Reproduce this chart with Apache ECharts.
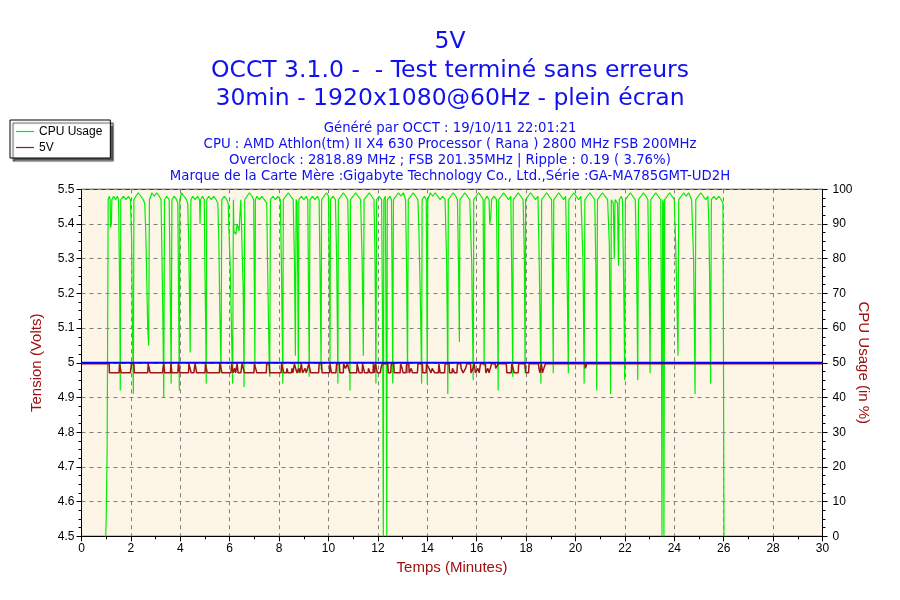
<!DOCTYPE html>
<html><head><meta charset="utf-8">
<script src="https://cdn.jsdelivr.net/npm/echarts@6/dist/echarts.min.js"></script>
<style>html,body{margin:0;padding:0;background:#fff}#c{width:900px;height:600px}</style>
</head><body><div id="c"></div>
<script>
const titleLines = ['5V', 'OCCT 3.1.0 -  - Test terminé sans erreurs', '30min - 1920x1080@60Hz - plein écran'];
const infoLines = [
  'Généré par OCCT : 19/10/11 22:01:21',
  'CPU : AMD Athlon(tm) II X4 630 Processor ( Rana ) 2800 MHz FSB 200MHz',
  'Overclock : 2818.89 MHz ; FSB 201.35MHz | Ripple : 0.19 ( 3.76%)',
  'Marque de la Carte Mère :Gigabyte Technology Co., Ltd.,Série :GA-MA785GMT-UD2H'
];
const seriesNames = ['CPU Usage', '5V'];
const axisNames = ['Temps (Minutes)', 'Tension (Volts)', 'CPU Usage (in %)'];
const nominalVolts = [[0, 5.0], [30, 5.0]];

// CPU usage (%) vs time (minutes)
const cpuUsage = [
[0.98,0],[1.0,5],[1.03,5],[1.04,26],[1.07,26],[1.08,97],[1.12,98],[1.16,97],[1.18,89],[1.21,90],[1.23,97],[1.3,98],[1.38,97],[1.45,98],[1.5,97],
[1.53,80],[1.55,68],[1.57,42],[1.59,97],[1.7,98],[1.8,97],[1.9,98],[1.98,97],
[2.03,85],[2.06,62],[2.1,41],[2.12,97],[2.2,98],[2.3,99],[2.4,98],[2.5,97],[2.56,96],
[2.6,88],[2.64,75],[2.68,60],[2.72,55],[2.75,97],[2.85,99],[2.95,98],[3.05,99],[3.15,98],[3.22,97],
[3.26,80],[3.3,60],[3.33,40],[3.36,97],[3.45,98],[3.55,97],
[3.58,78],[3.61,60],[3.63,44],[3.66,97],[3.75,98],[3.85,97],[3.9,96],
[3.93,70],[3.96,42],[3.98,97],[4.05,99],[4.15,98],[4.25,97],[4.3,96],
[4.34,85],[4.37,70],[4.4,53],[4.43,97],[4.5,98],[4.6,97],[4.7,98],[4.78,97],[4.8,90],[4.82,97],[4.9,98],[4.97,97],
[5.0,75],[5.03,60],[5.05,44],[5.07,97],[5.15,98],[5.25,97],[5.35,98],[5.45,97],[5.52,96],
[5.56,85],[5.6,65],[5.63,55],[5.65,47],[5.68,97],[5.78,98],[5.88,97],[5.94,96],
[5.97,88],[6.02,78],[6.07,60],[6.1,50],[6.12,44],[6.15,97],[6.17,88],[6.25,87],[6.3,90],[6.38,88],[6.45,97],
[6.5,97],[6.55,70],[6.58,43],[6.61,97],[6.7,98],[6.8,99],[6.9,98],[6.97,97],
[7.0,70],[7.02,49],[7.04,97],[7.1,98],[7.2,97],[7.3,98],[7.4,97],[7.5,96],
[7.53,80],[7.57,62],[7.6,50],[7.62,46],[7.65,97],[7.75,98],[7.85,97],[7.95,98],[8.05,97],
[8.1,75],[8.13,58],[8.15,44],[8.17,97],[8.27,98],[8.37,99],[8.47,98],[8.57,97],
[8.62,80],[8.66,52],[8.69,97],[8.73,96],[8.76,70],[8.78,47],[8.8,97],[8.9,98],[9.0,97],[9.1,98],[9.16,97],
[9.19,72],[9.22,46],[9.25,97],[9.35,98],[9.45,97],[9.55,98],[9.62,97],
[9.66,75],[9.7,48],[9.72,97],[9.82,98],[9.92,99],[10.0,98],
[10.04,70],[10.06,50],[10.08,97],[10.18,98],[10.28,97],
[10.33,80],[10.36,60],[10.38,44],[10.4,97],[10.5,98],[10.6,99],[10.7,98],[10.78,97],
[10.81,85],[10.84,70],[10.87,42],[10.89,97],[11.0,98],[11.1,99],[11.2,98],[11.3,97],
[11.36,80],[11.39,65],[11.41,52],[11.44,97],[11.55,98],[11.65,99],[11.75,98],[11.84,97],
[11.88,82],[11.9,65],[11.92,44],[11.95,97],[12.05,98],[12.15,97],
[12.19,60],[12.22,0],[12.24,97],[12.3,98],[12.34,50],[12.36,0],[12.38,97],[12.48,98],[12.55,97],
[12.58,70],[12.6,44],[12.63,97],[12.73,98],[12.83,99],[12.93,98],[13.03,99],[13.12,97],
[13.16,78],[13.2,47],[13.23,97],[13.33,98],[13.43,99],[13.53,98],[13.62,97],
[13.66,88],[13.7,75],[13.74,60],[13.77,44],[13.79,97],[13.88,98],[13.96,97],
[13.98,70],[14.0,44],[14.02,97],[14.12,99],[14.22,98],[14.32,99],[14.42,98],[14.52,97],[14.62,98],[14.72,97],
[14.78,80],[14.81,60],[14.83,41],[14.85,97],[14.95,98],[15.05,99],[15.15,98],[15.22,97],
[15.26,80],[15.3,56],[15.32,97],[15.42,98],[15.52,99],[15.62,98],[15.72,97],
[15.8,78],[15.83,60],[15.86,45],[15.88,97],[15.98,98],[16.08,99],[16.18,98],[16.26,97],
[16.28,75],[16.3,49],[16.33,97],[16.42,98],[16.5,97],[16.53,90],[16.57,92],[16.6,97],[16.7,98],[16.8,97],
[16.84,70],[16.87,42],[16.89,97],[16.99,98],[17.09,99],[17.19,98],[17.29,97],[17.38,98],
[17.42,75],[17.44,60],[17.46,46],[17.48,97],[17.58,98],[17.68,99],[17.78,98],[17.88,97],
[17.93,80],[17.96,47],[17.98,97],[18.08,98],[18.18,99],[18.28,98],[18.38,97],[18.48,98],
[18.53,80],[18.56,65],[18.6,44],[18.63,97],[18.73,98],[18.83,99],[18.93,98],[19.03,97],
[19.07,75],[19.1,47],[19.12,97],[19.22,98],[19.32,99],[19.42,98],[19.52,97],[19.6,98],
[19.64,82],[19.68,65],[19.71,47],[19.73,97],[19.83,98],[19.93,99],[20.03,98],[20.13,97],[20.22,98],
[20.3,80],[20.33,60],[20.35,44],[20.38,97],[20.48,98],[20.58,99],[20.68,98],[20.78,97],
[20.83,75],[20.86,42],[20.89,97],[20.99,98],[21.09,99],[21.19,98],[21.3,97],
[21.37,84],[21.4,60],[21.42,41],[21.45,97],[21.53,96],[21.57,80],[21.6,97],[21.7,96],[21.74,78],[21.77,97],[21.85,98],[21.9,97],
[21.94,78],[21.97,62],[21.99,45],[22.02,97],[22.12,98],[22.22,99],[22.32,98],[22.42,97],
[22.47,80],[22.5,60],[22.52,45],[22.55,97],[22.65,98],[22.75,99],[22.85,98],[22.93,97],
[22.96,80],[22.99,70],[23.02,47],[23.05,97],[23.15,98],[23.25,99],[23.35,98],[23.45,97],
[23.48,60],[23.5,0],[23.53,97],[23.56,96],[23.58,0],[23.61,97],[23.71,98],[23.81,99],[23.91,98],[24.0,97],
[24.05,85],[24.1,70],[24.15,52],[24.18,97],[24.28,98],[24.38,99],[24.48,98],[24.58,99],[24.7,97],
[24.78,80],[24.81,62],[24.84,41],[24.87,97],[24.97,98],[25.07,99],[25.17,98],[25.27,97],[25.36,98],
[25.4,90],[25.43,75],[25.47,44],[25.5,97],[25.6,98],[25.7,97],[25.8,98],[25.9,97],[25.97,96],[25.99,55],[26.01,0]
];

// 5V rail (volts) vs time (minutes)
const volts5 = [
[0,4.997],[1.12,4.997],[1.13,4.971],[1.52,4.971],[1.54,4.997],[1.6,4.997],[1.61,4.971],[1.98,4.971],[2.02,4.997],[2.12,4.997],[2.14,4.971],
[2.68,4.971],[2.7,4.997],[2.76,4.997],[2.78,4.971],[3.28,4.971],[3.3,4.984],[3.33,4.997],[3.36,4.997],[3.37,4.971],[3.6,4.971],[3.62,4.997],
[3.65,4.997],[3.66,4.971],[3.9,4.971],[3.92,4.997],[3.98,4.997],[3.99,4.971],[4.33,4.971],[4.35,4.997],[4.42,4.997],[4.44,4.971],[4.55,4.971],
[4.57,4.984],[4.6,4.997],[4.63,4.984],[4.66,4.971],[5.0,4.971],[5.02,4.997],[5.07,4.997],[5.09,4.971],[5.58,4.971],[5.6,4.997],[5.67,4.997],
[5.69,4.971],[6.05,4.971],[6.08,4.997],[6.12,4.997],[6.14,4.971],[6.2,4.984],[6.24,4.971],[6.3,4.997],[6.34,4.971],[6.45,4.971],[6.5,4.997],
[6.58,4.997],[6.6,4.971],[6.98,4.971],[7.0,4.997],[7.08,4.997],[7.1,4.971],[7.48,4.971],[7.5,4.997],[7.6,4.997],[7.62,4.971],[8.08,4.971],
[8.1,4.997],[8.17,4.997],[8.19,4.971],[8.3,4.971],[8.32,4.984],[8.36,4.971],[8.5,4.971],[8.52,4.984],[8.56,4.971],[8.6,4.971],[8.62,4.997],
[8.7,4.997],[8.72,4.971],[8.8,4.984],[8.84,4.971],[8.9,4.997],[8.95,4.971],[9.05,4.984],[9.1,4.971],[9.18,4.971],[9.2,4.997],[9.26,4.997],
[9.28,4.971],[9.6,4.971],[9.62,4.997],[9.72,4.997],[9.74,4.971],[10.04,4.971],[10.06,4.997],[10.1,4.997],[10.12,4.971],[10.3,4.971],[10.33,4.997],
[10.44,4.997],[10.46,4.971],[10.6,4.971],[10.61,4.997],[10.67,4.997],[10.69,4.984],[10.75,4.984],[10.77,4.997],[10.84,4.997],[10.86,4.971],
[11.14,4.971],[11.16,4.997],[11.22,4.997],[11.24,4.971],[11.36,4.971],[11.38,4.997],[11.44,4.997],[11.46,4.971],[11.6,4.971],[11.62,4.984],
[11.68,4.971],[11.8,4.971],[11.82,4.997],[11.86,4.971],[11.9,4.997],[11.96,4.997],[11.98,4.971],[12.1,4.971],[12.12,4.984],[12.18,4.997],
[12.4,4.997],[12.42,4.971],[12.52,4.971],[12.54,4.997],[12.64,4.997],[12.66,4.971],[12.9,4.971],[12.92,4.997],[12.98,4.984],[13.02,4.971],
[13.14,4.971],[13.16,4.997],[13.25,4.997],[13.27,4.971],[13.35,4.984],[13.4,4.971],[13.6,4.971],[13.62,4.997],[13.8,4.997],[13.82,4.971],
[13.95,4.971],[13.97,4.997],[14.05,4.997],[14.07,4.984],[14.15,4.971],[14.2,4.984],[14.3,4.971],[14.45,4.971],[14.47,4.997],[14.52,4.971],
[14.7,4.971],[14.72,4.997],[14.88,4.997],[14.9,4.971],[15.0,4.971],[15.02,4.984],[15.1,4.971],[15.2,4.971],[15.22,4.997],[15.35,4.997],
[15.37,4.984],[15.45,4.971],[15.55,4.984],[15.6,4.997],[15.75,4.997],[15.77,4.971],[15.85,4.984],[15.9,4.997],[15.95,4.971],[16.05,4.984],
[16.1,4.971],[16.15,4.997],[16.35,4.997],[16.37,4.971],[16.45,4.984],[16.5,4.971],[16.6,4.997],[16.75,4.997],[16.77,4.984],[16.85,4.984],
[16.87,4.997],[17.2,4.997],[17.22,4.971],[17.4,4.971],[17.42,4.997],[17.5,4.997],[17.52,4.971],[17.68,4.971],[17.7,4.997],[17.95,4.997],
[17.97,4.984],[18.0,4.971],[18.1,4.971],[18.12,4.997],[18.5,4.997],[18.52,4.984],[18.56,4.971],[18.62,4.997],[18.66,4.971],[18.72,4.984],
[18.78,4.997],[20.38,4.997],[20.4,4.984],[20.44,4.984],[20.46,4.997],[30,4.997]
];

const txtColor = '#1010f0';
const nameColor = '#a01010';
const graphics = [];
const titleY = [40, 69, 97];
titleLines.forEach((t, i) => graphics.push({type:'text', left:'center', top: titleY[i] - 10,
  style:{text:t, font:'23.5px "DejaVu Sans"', fill:txtColor}}));
const infoY = [127, 143, 159, 175];
infoLines.forEach((t, i) => graphics.push({type:'text', left:'center', top: infoY[i] - 5,
  style:{text:t, font:'13.3px "DejaVu Sans"', fill:txtColor}}));

const chart = echarts.init(document.getElementById('c'), null, {renderer:'canvas'});
const axisCommon = {
  axisLine:{show:true, lineStyle:{color:'#000', width:1}},
  axisTick:{show:true, length:5, lineStyle:{color:'#000'}},
  minorTick:{show:true, length:3, lineStyle:{color:'#000'}},
  axisLabel:{color:'#000', fontSize:12, fontFamily:'Liberation Sans'},
  nameTextStyle:{color:nameColor, fontSize:15, fontFamily:'Liberation Sans'},
  nameMoveOverlap:false
};
chart.setOption({
  animation:false,
  backgroundColor:'#fff',
  graphic: graphics,
  legend:{
    left:10, top:120, orient:'vertical', selectedMode:false,
    backgroundColor:'#fff', borderColor:'#000', borderWidth:1, borderRadius:0,
    icon:'rect', padding:[5,8,4,6], itemGap:3, itemWidth:18, itemHeight:1.2,
    textStyle:{fontFamily:'Liberation Sans', fontSize:12, color:'#000', lineHeight:13},
    shadowColor:'rgba(0,0,0,0.65)', shadowBlur:1, shadowOffsetX:3, shadowOffsetY:3,
    data: seriesNames
  },
  grid:{left:81.5, right:77.5, top:189.3, height:347, show:true, backgroundColor:'#fdf5e6', borderColor:'#000', borderWidth:1},
  xAxis:Object.assign({}, axisCommon, {
    type:'value', min:0, max:30, interval:2,
    minorTick:{show:true, splitNumber:2, length:3, lineStyle:{color:'#000'}},
    axisLabel:Object.assign({}, axisCommon.axisLabel, {margin:6}),
    splitLine:{show:true, lineStyle:{color:'#808080', type:[4,4], width:1}},
    name:axisNames[0], nameLocation:'middle', nameGap:24
  }),
  yAxis:[
    Object.assign({}, axisCommon, {
      type:'value', min:4.5, max:5.5, interval:0.1, position:'left',
      minorTick:{show:true, splitNumber:4, length:3, lineStyle:{color:'#000'}},
      axisLabel:Object.assign({}, axisCommon.axisLabel, {margin:7, formatter:v => String(Math.round(v*10)/10)}),
      splitLine:{show:true, lineStyle:{color:'#808080', type:[4,4], width:1}},
      name:axisNames[1], nameLocation:'middle', nameRotate:90, nameGap:37
    }),
    Object.assign({}, axisCommon, {
      type:'value', min:0, max:100, interval:10, position:'right',
      minorTick:{show:true, splitNumber:4, length:3, lineStyle:{color:'#000'}},
      axisLabel:Object.assign({}, axisCommon.axisLabel, {margin:10}),
      splitLine:{show:false},
      name:axisNames[2], nameLocation:'middle', nameRotate:-90, nameGap:33
    })
  ],
  series:[
    {name:seriesNames[0], type:'line', yAxisIndex:1, data:cpuUsage, symbol:'none', showSymbol:false,
     lineStyle:{color:'#00ee00', width:1.2}, itemStyle:{color:'#00ee00'}, z:2},
    {name:seriesNames[1], type:'line', yAxisIndex:0, data:volts5, symbol:'none', showSymbol:false,
     lineStyle:{color:'#a01515', width:1.5}, itemStyle:{color:'#a01515'}, z:3},
    {name:'nominal', type:'line', yAxisIndex:0, data:nominalVolts, symbol:'none', showSymbol:false,
     lineStyle:{color:'#0000ff', width:2}, z:4}
  ]
});
</script></body></html>
